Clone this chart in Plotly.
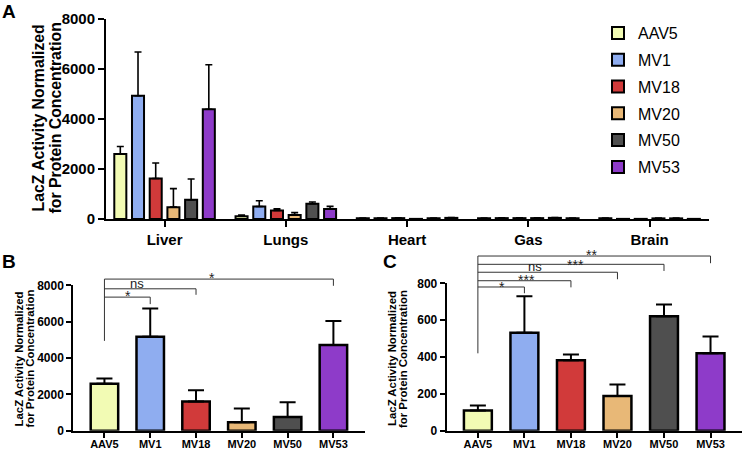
import plotly.graph_objects as go

# ---------------- data ----------------
vectors = ["AAV5", "MV1", "MV18", "MV20", "MV50", "MV53"]
organs = ["Liver", "Lungs", "Heart", "Gas", "Brain"]
colors = ["#F2FBB4", "#8FADF0", "#D13A3A", "#E8B877", "#4F4F4F", "#8E3BC9"]

# Panel A: mean (per vector, per organ) and upper SD
a_mean = {
    "AAV5": [2600, 115, 30, 30, 30],
    "MV1":  [4930, 500, 30, 35, 5],
    "MV18": [1620, 345, 35, 35, 5],
    "MV20": [475, 165, 5, 35, 25],
    "MV50": [770, 610, 30, 45, 25],
    "MV53": [4390, 405, 45, 30, 5],
}
a_err = {
    "AAV5": [300, 40, 10, 10, 10],
    "MV1":  [1750, 230, 10, 10, 5],
    "MV18": [620, 60, 10, 10, 5],
    "MV20": [740, 90, 5, 10, 10],
    "MV50": [830, 70, 10, 15, 10],
    "MV53": [1780, 100, 15, 10, 5],
}

# Panel B: liver
b_mean = [2590, 5170, 1600, 470, 750, 4720]
b_err = [280, 1560, 620, 750, 820, 1310]

# Panel C: lungs
c_mean = [110, 531, 383, 188, 621, 421]
c_err = [27, 199, 30, 63, 64, 90]

# significance brackets: (target index, label)
b_sig_targets = [1, 2, 5]
b_sig_labels = ["*", "ns", "*"]
c_sig_targets = [1, 2, 3, 4, 5]
c_sig_labels = ["*", "***", "ns", "***", "**"]

# ---------------- figure ----------------
W, H = 744, 450
fig = go.Figure()
FONT = "Arial, Liberation Sans, sans-serif"

for i, v in enumerate(vectors):
    fig.add_trace(go.Bar(
        name=v, x=organs, y=a_mean[v],
        marker=dict(color=colors[i], line=dict(color="black", width=2)),
        error_y=dict(type="data", symmetric=False, array=a_err[v],
                     arrayminus=[0] * len(organs), color="black",
                     thickness=1.6, width=3.5),
        xaxis="x", yaxis="y", legendgroup=v, showlegend=True,
    ))

fig.add_trace(go.Bar(
    x=vectors, y=b_mean,
    marker=dict(color=colors, line=dict(color="black", width=2.5)),
    error_y=dict(type="data", symmetric=False, array=b_err,
                 arrayminus=[0] * 6, color="black", thickness=2, width=8),
    xaxis="x2", yaxis="y2", showlegend=False, width=0.6,
))
fig.add_trace(go.Bar(
    x=vectors, y=c_mean,
    marker=dict(color=colors, line=dict(color="black", width=2.5)),
    error_y=dict(type="data", symmetric=False, array=c_err,
                 arrayminus=[0] * 6, color="black", thickness=2, width=8),
    xaxis="x3", yaxis="y3", showlegend=False, width=0.6,
))

def xdom(px0, px1):
    return [px0 / W, px1 / W]

def ydom(top_px, bottom_px):
    return [(H - bottom_px) / H, (H - top_px) / H]

axis_common = dict(showline=True, linecolor="black", linewidth=2,
                   ticks="outside", tickcolor="black", tickwidth=2,
                   showgrid=False, zeroline=False, fixedrange=True,
                   automargin=False)

fig.update_layout(
    width=W, height=H, margin=dict(l=0, r=0, t=0, b=0, autoexpand=False),
    paper_bgcolor="white", plot_bgcolor="white",
    font=dict(family=FONT, color="black"),
    barmode="group", bargap=0.124, bargroupgap=0.32,
    xaxis=dict(domain=xdom(106, 709), range=[-0.483, 4.49], anchor="y",
               ticklen=6, tickfont=dict(size=15, weight="bold"), **axis_common),
    yaxis=dict(domain=ydom(19, 219), range=[0, 8000], anchor="x",
               tickvals=[0, 2000, 4000, 6000, 8000], ticklen=6,
               tickfont=dict(size=15, weight="bold"), **axis_common),
    xaxis2=dict(domain=xdom(73.3, 365), range=[-0.68, 5.69], anchor="y2",
                ticklen=5, ticklabelstandoff=-3,
                tickfont=dict(size=11, weight="bold"), **axis_common),
    yaxis2=dict(domain=ydom(285.3, 430.7), range=[0, 8000], anchor="x2",
                tickvals=[0, 2000, 4000, 6000, 8000], ticklen=5,
                tickfont=dict(size=12, weight="bold"), **axis_common),
    xaxis3=dict(domain=xdom(446.7, 741.7), range=[-0.67, 5.67], anchor="y3",
                ticklen=5, ticklabelstandoff=-3,
                tickfont=dict(size=11, weight="bold"), **axis_common),
    yaxis3=dict(domain=ydom(283.3, 430.7), range=[0, 800], anchor="x3",
                tickvals=[0, 200, 400, 600, 800], ticklen=5,
                tickfont=dict(size=12, weight="bold"), **axis_common),
    legend=dict(x=598 / W, y=(H - 16) / H, xanchor="left", yanchor="top",
                font=dict(size=16, family=FONT), tracegroupgap=3,
                bgcolor="rgba(0,0,0,0)", traceorder="grouped"),
)

annotations = []
shapes = []

# panel letters
for txt, x, y in [("A", 9, 11.5), ("B", 9, 261.7), ("C", 389.5, 261)]:
    annotations.append(dict(text=txt, x=x / W, y=(H - y) / H, xref="paper", yref="paper",
                            showarrow=False, xanchor="center", yanchor="middle",
                            font=dict(size=19, weight="bold")))

# y titles (two lines each)
line1, line2 = "LacZ Activity Normalized", "for Protein Concentration"
for (x1, x2, yc, fs) in [(37.5, 54.5, 118, 15.8), (18.5, 29.5, 359, 11.4), (392, 403, 359, 11.4)]:
    for txt, x in [(line1, x1), (line2, x2)]:
        annotations.append(dict(text=txt, x=x / W, y=(H - yc) / H, xref="paper", yref="paper",
                                showarrow=False, textangle=-90, xanchor="center", yanchor="middle",
                                font=dict(size=fs, weight="bold")))

# significance brackets (positions in data units of each panel)
def add_brackets(xr, yr, ymax, targets, labels, levels, drops, label_x, label_y, stem_bottom):
    d = lambda v: v / ymax
    line = dict(color="#333333", width=1)
    top = max(levels)
    shapes.append(dict(type="line", xref=xr, yref=yr + " domain", x0=0, x1=0,
                       y0=d(stem_bottom), y1=d(top), line=line))
    for t, lv, dr in zip(targets, levels, drops):
        shapes.append(dict(type="line", xref=xr, yref=yr + " domain", x0=0, x1=t,
                           y0=d(lv), y1=d(lv), line=line))
        shapes.append(dict(type="line", xref=xr, yref=yr + " domain", x0=t, x1=t,
                           y0=d(lv), y1=d(dr), line=line))
    for lab, lx, ly in zip(labels, label_x, label_y):
        annotations.append(dict(text=lab, x=lx, y=d(ly), xref=xr, yref=yr + " domain",
                                showarrow=False, xanchor="center", yanchor="middle",
                                yshift=-3 if "*" in lab else 0,
                                font=dict(size=14 if "*" in lab else 13, color="#222222")))

add_brackets("x2", "y2", 8000, b_sig_targets, b_sig_labels,
             levels=[7350, 7807, 8342], drops=[6964, 7477, 7972],
             label_x=[0.52, 0.71, 2.35], label_y=[7570, 8083, 8578], stem_bottom=4942)
add_brackets("x3", "y3", 800, c_sig_targets, c_sig_labels,
             levels=[780, 814, 860, 903, 948], drops=[746, 778, 822, 867, 909],
             label_x=[0.52, 1.05, 1.23, 2.09, 2.45], label_y=[795, 836, 890, 917, 972],
             stem_bottom=420)

fig.update_layout(annotations=annotations, shapes=shapes)
fig.write_html("out.html", config={"displayModeBar": False},
               post_script="document.body.style.margin='0';document.body.style.overflow='hidden';")
